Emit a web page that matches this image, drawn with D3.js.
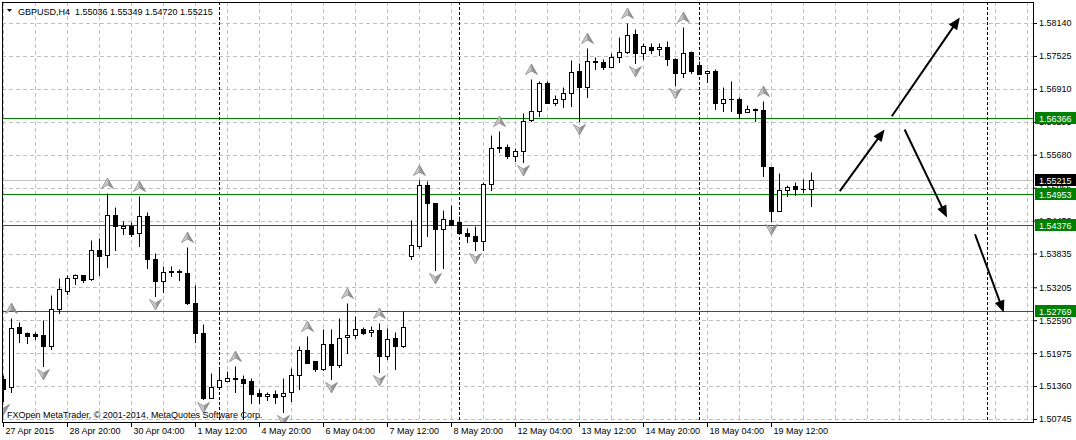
<!DOCTYPE html>
<html><head><meta charset="utf-8">
<script src="https://cdn.jsdelivr.net/npm/d3@7"></script>
<style>
html,body{margin:0;padding:0;background:#fff;}
svg{display:block;}
text{font-family:"Liberation Sans",Arial,sans-serif;font-size:9px;fill:#000;}
</style></head><body>
<svg id="chart" width="1076" height="440"></svg>
<script>
// ---------- data ----------
const symbol = "GBPUSD,H4";
const opens = [1.51487,1.51338,1.52456,1.52357,1.52325,1.52320,1.52107,1.52804,1.53140,1.53375,
1.53425,1.53364,1.53910,1.53811,1.54562,1.54307,1.54357,1.54221,1.54543,1.53736,
1.53323,1.53494,1.53505,1.53475,1.52903,1.52357,1.51138,1.51351,1.51463,1.51519,
1.51500,1.51450,1.51226,1.51176,1.51213,1.51176,1.51250,1.51574,1.52027,1.51822,
1.51673,1.52139,1.51748,1.52279,1.52307,1.52432,1.52368,1.52400,1.51921,1.52264,
1.52111,1.53798,1.53984,1.55115,1.54780,1.54295,1.54456,1.54426,1.54221,1.54170,
1.54072,1.55127,1.55824,1.55824,1.55648,1.55749,1.56332,1.56494,1.57027,1.56655,
1.56718,1.56841,1.57240,1.56953,1.57423,1.57413,1.57326,1.57501,1.57605,1.57935,
1.57575,1.57698,1.57650,1.57687,1.57464,1.57214,1.57600,1.57352,1.57203,1.57240,
1.56644,1.56714,1.56729,1.56481,1.56543,1.56519,1.55451,1.54631,1.55028,1.55102,
1.55041,1.55036];
const highs = [1.51561,1.52624,1.52562,1.52363,1.52376,1.52596,1.53052,1.53382,1.53425,1.53462,
1.53438,1.54083,1.54133,1.54966,1.54705,1.54444,1.54431,1.54916,1.54618,1.53848,
1.53598,1.53593,1.53550,1.53960,1.53239,1.52521,1.51599,1.51705,1.51636,1.51738,
1.51571,1.51515,1.51300,1.51250,1.51287,1.51519,1.51697,1.52107,1.52294,1.51822,
1.52419,1.52419,1.52637,1.52912,1.52666,1.52456,1.52475,1.52540,1.52437,1.52363,
1.52763,1.54469,1.55214,1.55190,1.54780,1.54655,1.54743,1.54530,1.54320,1.54344,
1.55177,1.56047,1.56122,1.55885,1.55797,1.56457,1.57091,1.57053,1.57053,1.56804,
1.56942,1.57450,1.57400,1.57669,1.57512,1.57464,1.57587,1.57874,1.58134,1.58034,
1.57773,1.57773,1.57773,1.57810,1.57482,1.58071,1.57613,1.57437,1.57264,1.57277,
1.56942,1.57065,1.56755,1.56606,1.56556,1.56692,1.55451,1.55339,1.55115,1.55164,
1.55227,1.55349];
const lows = [1.51077,1.51250,1.52182,1.52171,1.52232,1.51735,1.52046,1.52717,1.53084,1.53263,
1.53300,1.53337,1.53438,1.53587,1.53910,1.54208,1.54157,1.53984,1.53561,1.53034,
1.53114,1.53412,1.53350,1.52885,1.52182,1.51114,1.51130,1.51347,1.51450,1.51250,
1.50751,1.51045,1.51053,1.51101,1.51053,1.50877,1.51082,1.51313,1.51785,1.51649,
1.51660,1.51487,1.51724,1.51984,1.52264,1.52338,1.52288,1.51623,1.51860,1.51673,
1.52083,1.53736,1.53947,1.54157,1.53524,1.53574,1.54366,1.54208,1.54046,1.53910,
1.53910,1.55015,1.55736,1.55611,1.55555,1.55550,1.56319,1.56394,1.56644,1.56617,
1.56580,1.56593,1.56319,1.56755,1.57277,1.57277,1.57320,1.57413,1.57575,1.57400,
1.57464,1.57575,1.57549,1.57357,1.56990,1.57139,1.57203,1.57180,1.57040,1.56543,
1.56494,1.56506,1.56370,1.56476,1.56308,1.55276,1.54444,1.54628,1.54903,1.54929,
1.54977,1.54720];
const closes = [1.51300,1.52450,1.52357,1.52301,1.52301,1.52107,1.52804,1.53164,1.53375,1.53425,
1.53350,1.53910,1.53798,1.54556,1.54344,1.54357,1.54208,1.54543,1.53736,1.53319,
1.53494,1.53505,1.53494,1.52916,1.52357,1.51138,1.51351,1.51468,1.51515,1.51487,
1.51425,1.51211,1.51176,1.51213,1.51164,1.51239,1.51574,1.52027,1.51798,1.51673,
1.52139,1.51748,1.52264,1.52320,1.52432,1.52357,1.52404,1.51921,1.52245,1.52107,
1.52469,1.53997,1.55115,1.54780,1.54295,1.54482,1.54370,1.54221,1.54157,1.54072,
1.55127,1.55797,1.55797,1.55661,1.55749,1.56319,1.56494,1.57016,1.56655,1.56718,
1.56841,1.57227,1.56953,1.57426,1.57419,1.57326,1.57501,1.57605,1.57922,1.57575,
1.57711,1.57637,1.57698,1.57464,1.57214,1.57587,1.57240,1.57190,1.57251,1.56644,
1.56718,1.56720,1.56457,1.56532,1.56519,1.55462,1.54631,1.55015,1.55078,1.55041,
1.55043,1.55215];

const upFractals   = [1,13,17,23,29,38,43,47,52,62,66,73,78,85,95];
const downFractals = [0,5,19,25,30,35,41,47,54,59,65,72,79,84,96];

const timeTickBars   = [0,8,16,24,32,40,48,56,64,72,80,88,96];
const timeTickLabels = ["27 Apr 2015","28 Apr 20:00","30 Apr 04:00","1 May 12:00","4 May 20:00",
  "6 May 04:00","7 May 12:00","8 May 20:00","12 May 04:00","13 May 12:00","14 May 20:00",
  "18 May 04:00","19 May 12:00"];
const priceTicks = [1.58140,1.57525,1.56910,1.56295,1.55680,1.55065,1.54450,1.53835,1.53205,
  1.52590,1.51975,1.51360,1.50745];
const gridBars = d3.range(0, 132, 4);
const separatorBars = [27,57,87,123];

const levelPrices = [1.56366,1.54953,1.54376,1.52769];
const bidPrice = 1.55215;

// hand drawn forecast arrows: [startBar, startPrice, endBar, endPrice]
const arrowStartBars   = [104.6,111.1,112.7,121.5];
const arrowStartPrices = [1.55002,1.56399,1.56152,1.54195];
const arrowEndBars     = [110.2,119.6,118.0,125.1];
const arrowEndPrices   = [1.56152,1.58244,1.54506,1.52735];

const copyright = "FXOpen MetaTrader, \u00A9 2001-2014, MetaQuotes Software Corp.";

// ---------- drawing ----------
const svg = d3.select("#chart");
const P = {left:2, top:2, right:1033, bottom:422};
const x = d3.scaleLinear().domain([0,1]).range([3,11]);
const y = d3.scaleLinear().domain([1.50745,1.58140]).range([419,23]);
const cx = i => Math.round(x(i)) + 0.5;
const cy = v => Math.round(y(v)) + 0.5;

svg.append("rect").attr("width",1076).attr("height",440).attr("fill","#fff");

const defs = svg.append("defs");
defs.append("clipPath").attr("id","plotclip")
  .append("rect").attr("x",3).attr("y",3).attr("width",P.right-3).attr("height",P.bottom-3);
const gr = defs.append("linearGradient").attr("id","fracgrad").attr("x1","0").attr("x2","1").attr("y1","0").attr("y2","0");
gr.append("stop").attr("offset","0").attr("stop-color","#d8d8d8");
gr.append("stop").attr("offset","0.5").attr("stop-color","#c4c4c4");
gr.append("stop").attr("offset","0.5").attr("stop-color","#a0a0a0");
gr.append("stop").attr("offset","1").attr("stop-color","#8a8a8a");

const plot = svg.append("g").attr("clip-path","url(#plotclip)");

// grid
plot.append("g").selectAll("line").data(gridBars).join("line")
  .attr("x1",d=>cx(d)).attr("x2",d=>cx(d)).attr("y1",P.top).attr("y2",P.bottom)
  .attr("stroke","#c0c0c0").attr("stroke-dasharray","4,3");
plot.append("g").selectAll("line").data(priceTicks).join("line")
  .attr("x1",P.left).attr("x2",P.right).attr("y1",d=>cy(d)).attr("y2",d=>cy(d))
  .attr("stroke","#c0c0c0").attr("stroke-dasharray","4,3");

// period separators
plot.append("g").selectAll("line").data(separatorBars).join("line")
  .attr("x1",d=>cx(d)).attr("x2",d=>cx(d)).attr("y1",P.top).attr("y2",P.bottom)
  .attr("stroke","#000").attr("stroke-dasharray","3,2");

// bid line & levels
plot.append("line").attr("x1",P.left).attr("x2",P.right)
  .attr("y1",cy(bidPrice)).attr("y2",cy(bidPrice)).attr("stroke","#c0c0c0");
plot.append("g").selectAll("line").data(levelPrices).join("line")
  .attr("x1",P.left).attr("x2",P.right).attr("y1",d=>cy(d)).attr("y2",d=>cy(d))
  .attr("stroke","#008000");

// candles
const bars = d3.range(opens.length);
const cg = plot.append("g");
cg.selectAll("line.wick").data(bars).join("line").attr("class","wick")
  .attr("x1",cx).attr("x2",cx)
  .attr("y1",i=>cy(highs[i])).attr("y2",i=>cy(lows[i])+0.5)
  .attr("stroke","#000");
bars.forEach(i=>{
  const top = Math.round(y(Math.max(opens[i],closes[i])));
  const bot = Math.round(y(Math.min(opens[i],closes[i])));
  const c = cx(i);
  if (bot - top < 1) {
    cg.append("line").attr("x1",c-2.5).attr("x2",c+2.5)
      .attr("y1",top+0.5).attr("y2",top+0.5).attr("stroke","#000");
  } else {
    cg.append("rect").attr("x",c-2).attr("y",top+0.5).attr("width",4).attr("height",bot-top)
      .attr("fill", closes[i] >= opens[i] ? "#fff" : "#000").attr("stroke","#000");
  }
});

// fractals
const upPath = "M0,-5.5 L6,5 L0,1.5 L-6,5 Z";
const downPath = "M0,5.5 L6,-5 L0,-1.5 L-6,-5 Z";
plot.append("g").selectAll("path").data(upFractals).join("path")
  .attr("d",upPath).attr("transform",i=>`translate(${cx(i)},${Math.round(y(highs[i]))-9.5})`)
  .attr("fill","url(#fracgrad)").attr("stroke","#7c7c7c").attr("stroke-width",0.7);
plot.append("g").selectAll("path").data(downFractals).join("path")
  .attr("d",downPath).attr("transform",i=>`translate(${cx(i)},${Math.round(y(lows[i]))+8.5})`)
  .attr("fill","url(#fracgrad)").attr("stroke","#7c7c7c").attr("stroke-width",0.7);

// forecast arrows
const ag = plot.append("g");
arrowStartBars.forEach((b,k)=>{
  const x0 = x(b), y0 = y(arrowStartPrices[k]);
  const x1 = x(arrowEndBars[k]), y1 = y(arrowEndPrices[k]);
  const len = Math.hypot(x1-x0,y1-y0), ux=(x1-x0)/len, uy=(y1-y0)/len;
  const L=12, hw=5;
  const bx = x1-ux*L, by = y1-uy*L;
  ag.append("line").attr("x1",x0).attr("y1",y0).attr("x2",bx+ux*2).attr("y2",by+uy*2)
    .attr("stroke","#000").attr("stroke-width",2);
  ag.append("path").attr("d",`M${x1},${y1} L${bx-uy*hw},${by+ux*hw} L${bx+uy*hw},${by-ux*hw} Z`)
    .attr("fill","#000");
});

// frame
svg.append("line").attr("x1",2.5).attr("x2",2.5).attr("y1",2).attr("y2",P.bottom+1).attr("stroke","#000");
svg.append("line").attr("x1",2).attr("x2",P.right+1).attr("y1",2.5).attr("y2",2.5).attr("stroke","#000");
svg.append("line").attr("x1",P.right+0.5).attr("x2",P.right+0.5).attr("y1",2).attr("y2",P.bottom+1).attr("stroke","#000");
svg.append("line").attr("x1",2).attr("x2",P.right+1).attr("y1",P.bottom+0.5).attr("y2",P.bottom+0.5).attr("stroke","#000");

// price axis
const yAxis = svg.append("g").attr("transform",`translate(${P.right},0)`)
  .call(d3.axisRight(y).tickValues(priceTicks).tickSize(4).tickPadding(2).tickFormat(d=>d.toFixed(5)));
yAxis.select(".domain").remove();
yAxis.selectAll("text").attr("fill","#000").style("font-size","9px").style("font-family",'"Liberation Sans",Arial,sans-serif');

// time axis
const xAxis = svg.append("g").attr("transform",`translate(0,${P.bottom})`)
  .call(d3.axisBottom(x).tickValues(timeTickBars).tickSize(5)
    .tickFormat((d,k)=>timeTickLabels[k]));
xAxis.select(".domain").remove();
xAxis.selectAll("text").attr("text-anchor","start").attr("x",2).attr("y",12).attr("dy",0)
  .attr("fill","#000").style("font-size","9px").style("font-family",'"Liberation Sans",Arial,sans-serif');

// price labels (boxes drawn over the axis, as in the terminal)
const labelData = [
  {v:levelPrices[0], c:"#008000"},
  {v:bidPrice, c:"#000"},
  {v:levelPrices[1], c:"#008000"},
  {v:levelPrices[2], c:"#008000"},
  {v:levelPrices[3], c:"#008000"}
];
const lg = svg.append("g");
labelData.forEach(d=>{
  const yy = Math.round(y(d.v));
  lg.append("rect").attr("x",P.right+2).attr("y",yy-6).attr("width",41).attr("height",12).attr("fill",d.c);
  lg.append("text").attr("x",P.right+6).attr("y",yy+3.5).attr("fill","#fff").style("fill","#fff")
    .text(d.v.toFixed(5));
});

// header
const last = opens.length-1;
svg.append("path").attr("d","M7,9 L12,9 L9.5,12 Z").attr("fill","#000");
svg.append("text").attr("x",18).attr("y",14.5).attr("xml:space","preserve").style("white-space","pre")
  .text(`${symbol}  ${opens[last].toFixed(5)} ${highs[last].toFixed(5)} ${lows[last].toFixed(5)} ${closes[last].toFixed(5)}`);

// copyright
svg.append("text").attr("x",7).attr("y",418).text(copyright);
</script>
</body></html>
